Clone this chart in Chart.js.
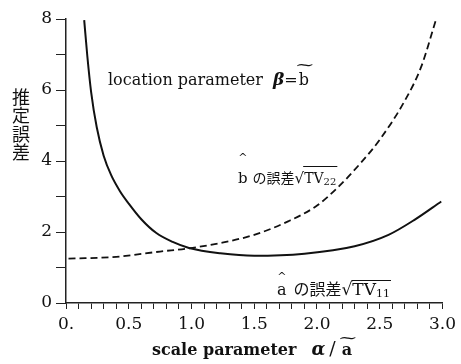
<!DOCTYPE html>
<html>
<head>
<meta charset="utf-8">
<script src="https://cdn.jsdelivr.net/npm/chart.js@4/dist/chart.umd.min.js"></script>
<style>
  html, body { margin: 0; padding: 0; background: #fff; }
  canvas { display: block; }
</style>
</head>
<body>
<canvas id="err-chart" width="461" height="364"></canvas>
<script>
// solid curve : error of a-hat, sqrt(TV11)
var a_err_x = [ 0.145, 0.17, 0.2, 0.245, 0.3, 0.36, 0.43, 0.5, 0.6, 0.72, 0.85, 0.98, 1.23, 1.5, 1.9, 2.3, 2.57, 2.78, 2.99 ];
var a_err_y = [ 7.97, 6.95, 5.95, 4.95, 4.15, 3.6, 3.15, 2.8, 2.36, 1.97, 1.72, 1.55, 1.40, 1.33, 1.39, 1.60, 1.92, 2.35, 2.86 ];

// dashed curve : error of b-hat, sqrt(TV22)
var b_err_x = [ 0.02, 0.4, 0.75, 0.98, 1.23, 1.5, 1.77, 1.99, 2.15, 2.35, 2.5, 2.7, 2.83, 2.95 ];
var b_err_y = [ 1.25, 1.30, 1.45, 1.54, 1.69, 1.92, 2.30, 2.72, 3.20, 3.95, 4.60, 5.70, 6.65, 8.00 ];

var x_tick_labels = [ '0.', '0.5', '1.0', '1.5', '2.0', '2.5', '3.0' ];
var y_tick_labels = [ '0', '2', '4', '6', '8' ];
var y_title_chars = [ '推', '定', '誤', '差' ];

var SERIF = "'DejaVu Serif', 'Liberation Serif', serif";
var CJK = "'Noto Sans CJK JP', sans-serif";

function toPoints(xs, ys) {
	return xs.map(function(x, i) { return { x: x, y: ys[i] }; });
}

// draw a run of text pieces left to right, returns the pieces with x0/x1 filled in
function drawRun(ctx, x, y, parts) {
	parts.forEach(function(p) {
		ctx.font = p.font;
		ctx.fillText(p.t, x, y + (p.dy || 0));
		var w = ctx.measureText(p.t).width;
		p.x0 = x; p.x1 = x + w;
		x += w + (p.gap || 0);
	});
	return parts;
}

// accent (hat / tilde) centred at cx, optionally stretched sideways
function drawMark(ctx, ch, font, cx, y, sx) {
	ctx.save();
	ctx.font = font;
	ctx.textAlign = 'center';
	ctx.translate(cx, y);
	ctx.scale(sx || 1, 1);
	ctx.fillText(ch, 0, 0);
	ctx.restore();
}

var labelsPlugin = {
	id: 'labels',
	afterDraw: function(chart) {
		var ctx = chart.ctx;
		ctx.save();
		ctx.fillStyle = '#111';
		ctx.strokeStyle = '#111';
		ctx.textBaseline = 'alphabetic';
		ctx.textAlign = 'left';

		// location parameter beta = b~
		var loc = drawRun(ctx, 108, 85, [
			{ t: 'location parameter', font: '16px ' + SERIF, gap: 10 },
			{ t: 'β', font: 'italic bold 17px ' + SERIF, gap: 0 },
			{ t: '=', font: '16px ' + SERIF, gap: 1 },
			{ t: 'b', font: '16px ' + SERIF }
		]);
		drawMark(ctx, '~', '15px ' + SERIF, (loc[3].x0 + loc[3].x1) / 2 + 1, 70, 1.6);

		// b-hat error label
		var bl = drawRun(ctx, 238, 183, [
			{ t: 'b', font: '15px ' + SERIF, gap: 5 },
			{ t: 'の誤差', font: '14px ' + CJK, gap: 0 },
			{ t: '√', font: '15px ' + SERIF, gap: 0 },
			{ t: 'TV', font: '14px ' + SERIF, gap: 0 },
			{ t: '22', font: '10px ' + SERIF, dy: 2 }
		]);
		drawMark(ctx, '^', '11px ' + SERIF, (bl[0].x0 + bl[0].x1) / 2, 161);
		ctx.lineWidth = 1;
		ctx.beginPath();
		ctx.moveTo(bl[2].x1 - 1, 166.5);
		ctx.lineTo(bl[4].x1 + 1, 166.5);
		ctx.stroke();

		// a-hat error label
		var al = drawRun(ctx, 277, 295, [
			{ t: 'a', font: '16px ' + SERIF, gap: 7 },
			{ t: 'の誤差', font: '16px ' + CJK, gap: 0 },
			{ t: '√', font: '17px ' + SERIF, gap: 0 },
			{ t: 'TV', font: '17px ' + SERIF, gap: 0 },
			{ t: '11', font: '11px ' + SERIF, dy: 2 }
		]);
		drawMark(ctx, '^', '11px ' + SERIF, (al[0].x0 + al[0].x1) / 2, 280);
		ctx.beginPath();
		ctx.moveTo(al[2].x1 - 1, 280.5);
		ctx.lineTo(al[4].x1 + 1, 280.5);
		ctx.stroke();

		// x axis title
		var xt = drawRun(ctx, 152, 355, [
			{ t: 'scale parameter', font: 'bold 16px ' + SERIF, gap: 15 },
			{ t: 'α', font: 'italic bold 18px ' + SERIF, gap: 4 },
			{ t: '/', font: '19px ' + SERIF, gap: 6 },
			{ t: 'a', font: 'bold 16px ' + SERIF }
		]);
		drawMark(ctx, '~', '15px ' + SERIF, (xt[3].x0 + xt[3].x1) / 2 + 1, 343, 1.6);

		// y axis title, stacked vertically
		ctx.font = '18px ' + CJK;
		ctx.textAlign = 'center';
		ctx.textBaseline = 'middle';
		y_title_chars.forEach(function(ch, i) {
			ctx.fillText(ch, 21, 97 + i * 18.5);
		});
		ctx.restore();
	}
};

var ctx = document.getElementById('err-chart');
var cfg = {
	type: 'line',
	data: {
		datasets: [
			{ label: 'a-hat error',
			  data: toPoints(a_err_x, a_err_y),
			  borderColor: '#111',
			  borderWidth: 2,
			  pointRadius: 0,
			  cubicInterpolationMode: 'monotone',
			  fill: false
			},
			{ label: 'b-hat error',
			  data: toPoints(b_err_x, b_err_y),
			  borderColor: '#111',
			  borderWidth: 1.8,
			  borderDash: [ 7, 4 ],
			  pointRadius: 0,
			  cubicInterpolationMode: 'monotone',
			  fill: false
			}
		]
	},
	options: {
		responsive: false,
		animation: false,
		layout: { padding: { top: 19, right: 18, left: 0, bottom: 0 } },
		plugins: {
			legend: { display: false },
			tooltip: { enabled: false }
		},
		scales: {
			x: {
				type: 'linear',
				min: 0, max: 3,
				afterFit: function(s) { s.height = 61; },
				border: { display: true, color: '#222', width: 1.5 },
				grid: { drawOnChartArea: false, drawTicks: true, tickLength: 6, color: '#222' },
				ticks: {
					stepSize: 0.1,
					autoSkip: false,
					maxRotation: 0,
					padding: 5,
					color: '#111',
					font: { family: SERIF, size: 17 },
					callback: function(v) {
						var k = Math.round(v * 10);
						return (k % 5 === 0) ? x_tick_labels[k / 5] : '';
					}
				}
			},
			y: {
				min: 0, max: 8,
				afterFit: function(s) { s.width = 66; },
				border: { display: true, color: '#222', width: 1.5 },
				grid: { drawOnChartArea: false, drawTicks: true, tickLength: 10, color: '#222' },
				ticks: {
					stepSize: 1,
					padding: 4,
					color: '#111',
					font: { family: SERIF, size: 17 },
					callback: function(v) {
						return (v % 2 === 0) ? y_tick_labels[v / 2] : '';
					}
				}
			}
		}
	},
	plugins: [ labelsPlugin ]
};
new Chart(ctx, cfg);
</script>
</body>
</html>
